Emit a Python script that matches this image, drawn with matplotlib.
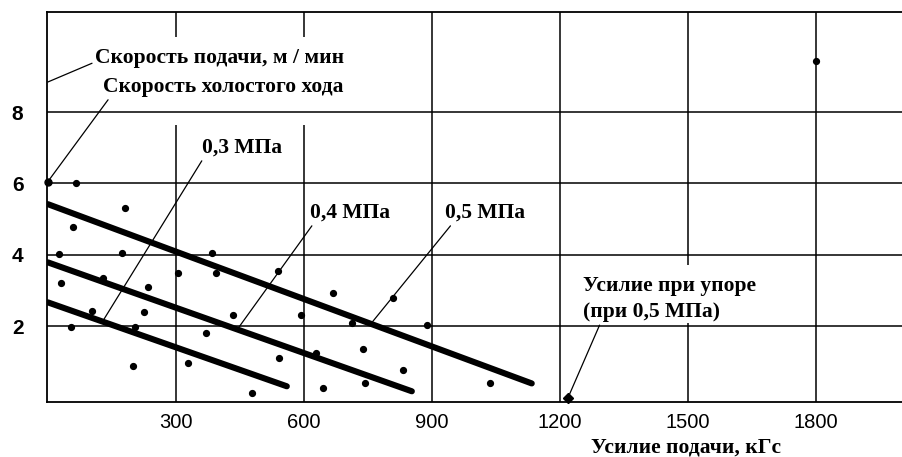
import matplotlib.pyplot as plt

# Feed speed vs. feed force, three supply pressures
FORCE_03 = [0, 560]
SPEED_03 = [2.67, 0.32]
FORCE_04 = [0, 853]
SPEED_04 = [3.79, 0.18]
FORCE_05 = [0, 1134]
SPEED_05 = [5.42, 0.40]

# Measured points
POINT_FORCE = [66, 180, 59, 26, 173, 384, 305, 394, 539, 30, 129, 234, 668, 809,
               103, 225, 434, 593, 712, 54, 204, 888, 370, 738, 541, 628, 199,
               328, 832, 743, 644, 478, 1036, 1800]
POINT_SPEED = [6.0, 5.32, 4.79, 4.02, 4.05, 4.05, 3.49, 3.49, 3.54, 3.2, 3.34,
               3.09, 2.92, 2.78, 2.42, 2.39, 2.33, 2.31, 2.08, 1.97, 1.97, 2.03,
               1.80, 1.36, 1.10, 1.24, 0.90, 0.96, 0.77, 0.40, 0.26, 0.12, 0.40,
               9.43]
IDLE_FORCE, IDLE_SPEED = 0, 6.05
STALL_FORCE, STALL_SPEED = 1219, 0.0

XTICKS = [300, 600, 900, 1200, 1500, 1800]
YTICKS = [2, 4, 6, 8]

SERIF = "Liberation Serif"
SANS = ["Liberation Sans Narrow", "Liberation Sans", "DejaVu Sans"]

fig = plt.figure(figsize=(9.03, 4.57), dpi=100)
ax = fig.add_axes([47 / 903, 1 - 402 / 457, 856 / 903, 390 / 457])
ax.set_xlim(-2, 2004)
ax.set_ylim(-0.12, 10.8)

for side in ("left", "bottom", "top"):
    ax.spines[side].set_linewidth(1.3)
ax.spines["right"].set_visible(False)

# grid drawn by hand, some lines are broken under the labels
gaps = {300: (7.63, 10.1), 600: (7.63, 10.1), 1500: (2.08, 3.71)}
for x in XTICKS:
    if x in gaps:
        lo, hi = gaps[x]
        ax.vlines(x, -0.12, lo, color="black", lw=1.1)
        ax.vlines(x, hi, 10.8, color="black", lw=1.1)
    else:
        ax.vlines(x, -0.12, 10.8, color="black", lw=1.1)
for y in YTICKS:
    ax.hlines(y, -2, 2004, color="black", lw=1.1)

ax.set_xticks(XTICKS)
ax.set_xticklabels([str(v) for v in XTICKS], family=SANS, fontsize=14.5)
ax.set_yticks(YTICKS)
ax.set_yticklabels([str(v) for v in YTICKS], family=SANS, fontsize=15,
                   fontweight="bold")
ax.tick_params(axis="x", length=0, pad=8)
ax.tick_params(axis="y", length=0, pad=17)

line_kw = dict(color="black", lw=4.4, solid_capstyle="round")
ax.plot(FORCE_03, SPEED_03, **line_kw)
ax.plot(FORCE_04, SPEED_04, **line_kw)
ax.plot(FORCE_05, SPEED_05, **line_kw)

ax.plot(POINT_FORCE, POINT_SPEED, "o", color="black", ms=4.2, clip_on=False)
ax.plot([IDLE_FORCE], [IDLE_SPEED], "o", color="black", ms=5, clip_on=False)
ax.plot([STALL_FORCE], [STALL_SPEED], "D", color="black", ms=5, clip_on=False)

txt_kw = dict(family=SERIF, fontsize=15.5, fontweight="bold", va="baseline",
              ha="left")
leader = dict(arrowstyle="-", lw=0.9, color="black", shrinkA=0, shrinkB=0)

ax.annotate("Скорость подачи, м / мин", xy=(0, 8.84), xytext=(110, 9.37),
            arrowprops=dict(leader, relpos=(0, 0.3)), **txt_kw)
ax.annotate("Скорость холостого хода", xy=(IDLE_FORCE, IDLE_SPEED),
            xytext=(129, 8.56), arrowprops=dict(leader, relpos=(0.03, 0)),
            **txt_kw)
ax.annotate("0,3 МПа", xy=(129, 2.15), xytext=(361, 6.85),
            arrowprops=dict(leader, relpos=(0.02, 0)), **txt_kw)
ax.annotate("0,4 МПа", xy=(445, 1.93), xytext=(614, 5.03),
            arrowprops=dict(leader, relpos=(0.05, 0)), **txt_kw)
ax.annotate("0,5 МПа", xy=(759, 2.1), xytext=(930, 5.03),
            arrowprops=dict(leader, relpos=(0.1, 0)), **txt_kw)
ax.text(1254, 3.0, "Усилие при упоре", **txt_kw)
ax.annotate("(при 0,5 МПа)", xy=(STALL_FORCE, STALL_SPEED), xytext=(1254, 2.25),
            arrowprops=dict(leader, relpos=(0.13, 0)), **txt_kw)

fig.text(686 / 903, 1 - 447 / 457, "Усилие подачи, кГс", family=SERIF,
         fontsize=15.5, fontweight="bold", ha="center", va="center")

fig.savefig("out.png", dpi=100)
